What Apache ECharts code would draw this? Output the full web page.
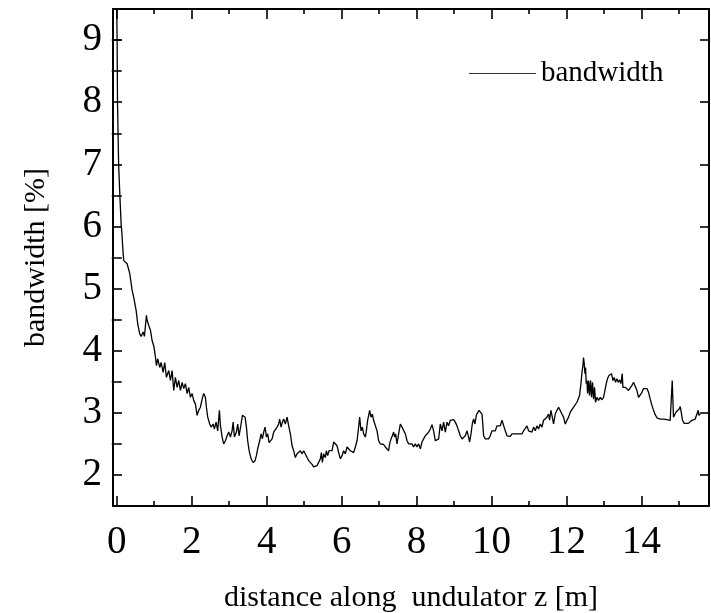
<!DOCTYPE html>
<html>
<head>
<meta charset="utf-8">
<title>bandwidth along undulator</title>
<script src="https://cdn.jsdelivr.net/npm/echarts@6/dist/echarts.min.js"></script>
<style>
  html, body { margin: 0; padding: 0; background: #fff; }
  #chart { width: 711px; height: 613px; }
</style>
</head>
<body>
<div id="chart"></div>
<script>
// distance along the undulator, z [m]
const zPos = [
  0.00, 0.01, 0.02, 0.05, 0.09, 0.12, 0.13,
  0.171, 0.187, 0.277, 0.320, 0.347, 0.411, 0.453, 0.517, 0.560, 0.613, 0.651, 0.704, 0.739,
  0.792, 0.811, 0.853, 0.899, 0.944, 0.987, 1.032, 1.059, 1.093, 1.147, 1.184, 1.237, 1.280,
  1.325, 1.387, 1.432, 1.477, 1.520, 1.565, 1.611, 1.653, 1.699, 1.744, 1.787, 1.832, 1.877,
  1.920, 1.965, 2.011, 2.053, 2.099, 2.144, 2.187, 2.232, 2.277, 2.320, 2.365, 2.392, 2.427,
  2.480, 2.517, 2.571, 2.605, 2.651, 2.693, 2.739, 2.765,
  2.811, 2.853, 2.899, 2.944, 2.987, 3.032, 3.077, 3.104, 3.139, 3.192, 3.227, 3.264, 3.317,
  3.352, 3.387, 3.424, 3.459, 3.493, 3.531, 3.584, 3.637, 3.691, 3.725, 3.760, 3.813, 3.851,
  3.885, 3.920, 3.957, 3.992, 4.027, 4.064, 4.099, 4.144, 4.187, 4.232, 4.277, 4.320, 4.347,
  4.384, 4.419, 4.453, 4.499, 4.544, 4.587, 4.632, 4.677, 4.720, 4.765, 4.811, 4.853, 4.899,
  4.944, 4.987, 5.032, 5.077, 5.120, 5.165, 5.211, 5.253, 5.299, 5.344, 5.387, 5.432, 5.459,
  5.485, 5.520, 5.565, 5.592, 5.627, 5.664,
  5.699, 5.744, 5.787, 5.832, 5.877, 5.920, 5.965, 6.011, 6.053, 6.099, 6.144, 6.187, 6.232,
  6.277, 6.320, 6.365, 6.411, 6.453, 6.480, 6.517, 6.552, 6.587, 6.632, 6.659, 6.693, 6.720,
  6.747, 6.784, 6.819, 6.853, 6.899, 6.944, 6.987, 7.032, 7.077, 7.120, 7.165, 7.211, 7.253,
  7.280, 7.317, 7.352, 7.387, 7.413, 7.440, 7.477, 7.520, 7.565, 7.611, 7.653, 7.699, 7.744,
  7.787, 7.832, 7.877, 7.920, 7.965, 8.011, 8.053, 8.099, 8.144, 8.187, 8.232, 8.277, 8.320,
  8.365, 8.411, 8.453, 8.499, 8.544, 8.587, 8.632, 8.677, 8.720, 8.765, 8.811, 8.853, 8.899,
  8.944, 8.987, 9.032, 9.077, 9.120,
  9.165, 9.211, 9.253, 9.299, 9.344, 9.387, 9.413, 9.451, 9.485, 9.520, 9.557, 9.592, 9.627,
  9.664, 9.699, 9.744, 9.771, 9.787, 9.832, 9.877, 9.920, 9.965, 10.011, 10.053, 10.099,
  10.144, 10.187, 10.232, 10.277, 10.320, 10.365, 10.411, 10.453, 10.499, 10.544, 10.587,
  10.632, 10.677, 10.720, 10.765, 10.811, 10.853, 10.899, 10.944, 10.987, 11.032, 11.077,
  11.120, 11.165, 11.211, 11.253, 11.299, 11.344, 11.387, 11.432, 11.477, 11.520, 11.547,
  11.584, 11.619, 11.653, 11.699, 11.744, 11.787, 11.832, 11.877, 11.920, 11.965, 12.011, 12.053,
  12.099, 12.187, 12.277, 12.347, 12.384, 12.411, 12.437, 12.453, 12.472, 12.491, 12.507,
  12.525, 12.544, 12.560, 12.587, 12.613, 12.640, 12.667, 12.693, 12.720, 12.747, 12.773,
  12.811, 12.853, 12.899, 12.944, 12.987, 13.032, 13.059, 13.093, 13.131, 13.165, 13.200,
  13.237, 13.272, 13.307, 13.344, 13.379, 13.413, 13.451, 13.485, 13.504, 13.539, 13.573,
  13.611, 13.653, 13.699, 13.744, 13.787, 13.832, 13.877, 13.920, 13.965, 14.011, 14.053,
  14.099, 14.144, 14.187, 14.232, 14.277, 14.320, 14.365, 14.411, 14.453, 14.499, 14.544,
  14.587, 14.632, 14.677, 14.720, 14.765, 14.800, 14.819, 14.837, 14.853, 14.880, 14.917,
  14.960, 15.005, 15.032, 15.059, 15.093, 15.139, 15.192, 15.253, 15.299, 15.344, 15.387,
  15.432, 15.477, 15.512, 15.531, 15.565
];

// relative bandwidth [%] at each z
const bandwidth = [
  9.50, 9.00, 8.00, 7.00, 6.40, 6.00, 5.96,
  5.56, 5.45, 5.40, 5.42, 5.24, 4.97, 4.86, 4.65, 4.43, 4.27, 4.23, 4.30, 4.23,
  4.57, 4.49, 4.41, 4.33, 4.16, 4.08, 3.90, 3.76, 3.87, 3.73, 3.81, 3.65, 3.81,
  3.57, 3.68, 3.52, 3.68, 3.36, 3.57, 3.41, 3.52, 3.36, 3.49, 3.39, 3.47, 3.31,
  3.41, 3.25, 3.31, 3.20, 3.14, 2.96, 3.04, 3.09, 3.22, 3.31, 3.25, 3.09, 2.93,
  2.82, 2.77, 2.82, 2.74, 2.85, 2.71, 3.04, 2.80,
  2.61, 2.50, 2.55, 2.63, 2.69, 2.61, 2.71, 2.85, 2.61, 2.69, 2.82, 2.63, 2.82,
  2.96, 2.99, 2.93, 2.77, 2.55, 2.39, 2.26, 2.20, 2.23, 2.31, 2.42, 2.55, 2.66,
  2.58, 2.69, 2.77, 2.61, 2.66, 2.52, 2.50, 2.58, 2.69, 2.71, 2.77, 2.82, 2.90,
  2.77, 2.85, 2.90, 2.82, 2.93, 2.79, 2.66, 2.47, 2.39, 2.28, 2.34, 2.36, 2.39,
  2.34, 2.39, 2.36, 2.28, 2.23, 2.20, 2.17, 2.13, 2.12, 2.15, 2.15, 2.26, 2.36,
  2.20, 2.34, 2.28, 2.39, 2.31, 2.39,
  2.36, 2.39, 2.53, 2.55, 2.47, 2.36, 2.26, 2.31, 2.39, 2.34, 2.45, 2.47, 2.39,
  2.42, 2.36, 2.45, 2.55, 2.77, 2.93, 2.71, 2.77, 2.66, 2.61, 2.71, 2.88, 2.96,
  3.04, 2.93, 2.98, 2.88, 2.85, 2.71, 2.55, 2.50, 2.47, 2.49, 2.45, 2.47, 2.39,
  2.50, 2.58, 2.63, 2.69, 2.61, 2.66, 2.50, 2.66, 2.82, 2.77, 2.79, 2.66, 2.55,
  2.50, 2.47, 2.50, 2.45, 2.50, 2.45, 2.50, 2.42, 2.53, 2.58, 2.63, 2.61, 2.69,
  2.74, 2.81, 2.71, 2.55, 2.53, 2.58, 2.82, 2.71, 2.85, 2.69, 2.85, 2.79, 2.88,
  2.85, 2.89, 2.85, 2.79, 2.71,
  2.63, 2.58, 2.55, 2.63, 2.71, 2.61, 2.53, 2.66, 2.82, 2.90, 2.82, 2.96, 2.98,
  3.04, 3.01, 2.98, 2.77, 2.63, 2.58, 2.56, 2.58, 2.63, 2.71, 2.74, 2.71,
  2.79, 2.82, 2.79, 2.88, 2.85, 2.71, 2.63, 2.61, 2.62, 2.66, 2.69,
  2.66, 2.63, 2.66, 2.63, 2.66, 2.71, 2.69, 2.79, 2.71, 2.74, 2.69,
  2.77, 2.71, 2.79, 2.74, 2.82, 2.77, 2.88, 2.85, 2.93, 2.98, 2.88,
  3.04, 2.93, 2.82, 2.98, 3.04, 3.09, 3.12, 2.98, 2.93, 2.82, 2.88, 2.93,
  3.01, 3.09, 3.17, 3.28, 3.47, 3.65, 3.76, 3.89, 3.79, 3.63, 3.73,
  3.47, 3.52, 3.31, 3.52, 3.28, 3.52, 3.25, 3.49, 3.22, 3.41, 3.17,
  3.25, 3.20, 3.25, 3.21, 3.25, 3.26, 3.47, 3.55, 3.60, 3.57, 3.63,
  3.52, 3.57, 3.49, 3.55, 3.49, 3.53, 3.47, 3.63, 3.41, 3.44, 3.41,
  3.42, 3.36, 3.39, 3.44, 3.49, 3.47, 3.36, 3.25, 3.28, 3.33, 3.39,
  3.41, 3.39, 3.33, 3.22, 3.12, 3.04, 2.97, 2.92, 2.89, 2.90, 2.89,
  2.90, 2.88, 2.89, 2.86, 2.88, 2.85, 3.52, 3.20, 2.93, 2.96, 3.01,
  3.01, 3.06, 3.10, 3.01, 2.88, 2.83, 2.82, 2.83, 2.86, 2.88, 2.89,
  2.90, 2.92, 3.04, 2.96, 2.98
];

// tick positions
const xMajorTicks = [0, 2, 4, 6, 8, 10, 12, 14];
const xMinorTicks = [1, 3, 5, 7, 9, 11, 13, 15];
const yMajorTicks = [2, 3, 4, 5, 6, 7, 8, 9];
const yMinorTicks = [2.5, 3.5, 4.5, 5.5, 6.5, 7.5, 8.5, 9.0];

const X_MIN = -0.1, X_MAX = 15.8;
const Y_MIN = 1.5, Y_MAX = 9.5;
const serif = '"Liberation Serif", "Times New Roman", serif';

const chart = echarts.init(document.getElementById('chart'), null, { renderer: 'canvas' });

const frameLine = { show: true, onZero: false, lineStyle: { color: '#000', width: 2 } };
const noLine = { show: false };

function xAxisDef(position, ticks, len, withLabels, withLine) {
  return {
    type: 'value', position, min: X_MIN, max: X_MAX,
    splitLine: { show: false },
    axisLine: withLine ? frameLine : noLine,
    axisTick: { show: true, inside: true, length: len, customValues: ticks,
                lineStyle: { color: '#000', width: 1.6 } },
    axisLabel: withLabels ? {
      show: true, customValues: ticks, margin: 17,
      fontFamily: serif, fontSize: 39, color: '#000'
    } : { show: false }
  };
}
function yAxisDef(position, ticks, len, withLabels, withLine) {
  return {
    type: 'value', position, min: Y_MIN, max: Y_MAX,
    splitLine: { show: false },
    axisLine: withLine ? frameLine : noLine,
    axisTick: { show: true, inside: true, length: len, customValues: ticks,
                lineStyle: { color: '#000', width: 1.6 } },
    axisLabel: withLabels ? {
      show: true, customValues: ticks, margin: 11,
      fontFamily: serif, fontSize: 39, color: '#000'
    } : { show: false }
  };
}

const xAxes = [
  Object.assign(xAxisDef('bottom', xMajorTicks, 10, true, true), {
    name: 'distance along  undulator z [m]', nameLocation: 'middle', nameGap: 77,
    nameTextStyle: { fontFamily: serif, fontSize: 30, color: '#000' }
  }),
  xAxisDef('bottom', xMinorTicks, 5, false, false),
  xAxisDef('top', xMajorTicks, 10, false, true),
  xAxisDef('top', xMinorTicks, 5, false, false)
];
const yAxes = [
  Object.assign(yAxisDef('left', yMajorTicks, 9, true, true), {
    name: 'bandwidth [%]', nameLocation: 'middle', nameGap: 62, nameRotate: 90,
    nameTextStyle: { fontFamily: serif, fontSize: 30, color: '#000' }
  }),
  yAxisDef('left', yMinorTicks, 5, false, false),
  yAxisDef('right', yMajorTicks, 9, false, true),
  yAxisDef('right', yMinorTicks, 5, false, false)
];

chart.setOption({
  animation: false,
  backgroundColor: '#fff',
  grid: { left: 113, right: 2, top: 9, bottom: 107, containLabel: false, outerBoundsMode: 'none' },
  legend: {
    show: true, left: 464, top: 54,
    icon: 'rect', itemWidth: 67, itemHeight: 1.2, itemGap: 10,
    textStyle: { fontFamily: serif, fontSize: 29, color: '#000' },
    data: ['bandwidth']
  },
  xAxis: xAxes,
  yAxis: yAxes,
  series: [{
    name: 'bandwidth',
    type: 'line',
    xAxisIndex: 0, yAxisIndex: 0,
    data: zPos.map((z, i) => [z, bandwidth[i]]),
    showSymbol: false, symbol: 'none',
    lineStyle: { color: '#000', width: 1.3 },
    itemStyle: { color: '#333' },
    clip: true
  }]
});
</script>
</body>
</html>
